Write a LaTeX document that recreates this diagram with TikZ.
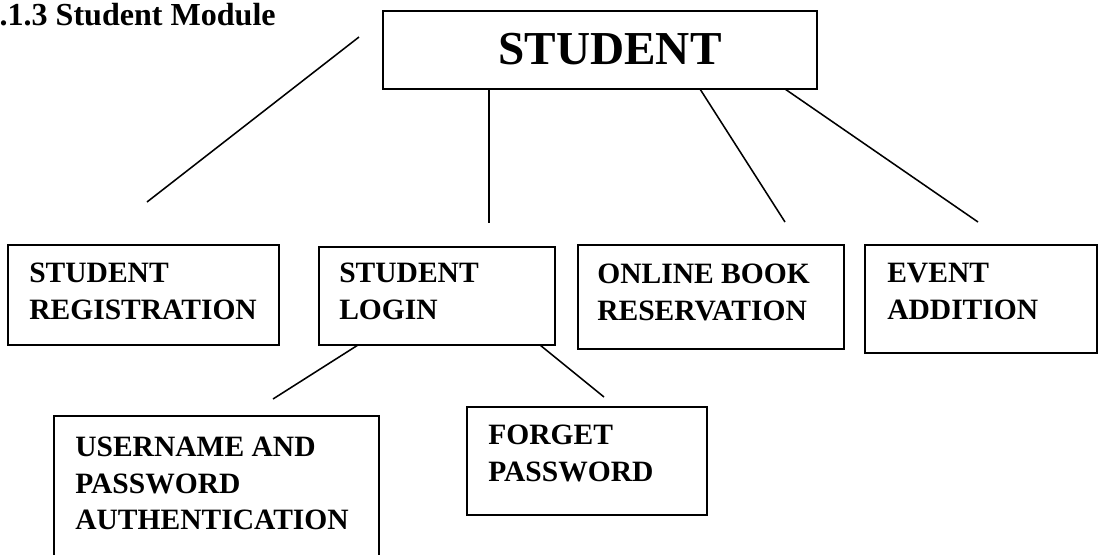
\documentclass[tikz,border=0pt]{standalone}
\usepackage{fontspec}
\setmainfont{Liberation Serif}
\usepackage{tikz}

\newcommand{\px}{0.025cm}

\tikzset{
  box/.style={draw, line width=1.4pt, inner sep=0pt, outer sep=0pt, anchor=north west},
  lbl/.style={inner sep=0pt, anchor=north west, align=left, font=\bfseries\fontsize{21}{26}\selectfont},
  link/.style={line width=1.1pt}
}

\begin{document}
\begin{tikzpicture}[x=\px, y=-\px]
\clip (0,0) rectangle (1100,554);
% heading
\node[anchor=base east, inner sep=0pt, font=\bfseries\fontsize{22.8}{27}\selectfont] (title) at (276,25) {.1.3 Student Module};
% top box
\node[box, minimum width=434*\px, minimum height=78*\px] (student) at (383,11) {};
\node[inner sep=0pt, font=\bfseries\fontsize{33.6}{40}\selectfont] (studenttxt) at (610,49) {STUDENT};
% second row
\node[box, minimum width=271*\px, minimum height=100*\px] (reg) at (8,245) {};
\node[box, minimum width=236*\px, minimum height=98*\px] (login) at (319,247) {};
\node[box, minimum width=266*\px, minimum height=104*\px] (online) at (578,245) {};
\node[box, minimum width=232*\px, minimum height=108*\px] (event) at (865,245) {};
\node[lbl] (regtxt) at ([shift={(21,18)}]reg.north west) {STUDENT\\REGISTRATION};
\node[lbl] (logintxt) at ([shift={(20,16)}]login.north west) {STUDENT\\LOGIN};
\node[lbl] (onlinetxt) at ([shift={(19,19)}]online.north west) {ONLINE BOOK\\RESERVATION};
\node[lbl] (eventtxt) at ([shift={(22,18)}]event.north west) {EVENT\\ADDITION};
% third row
\node[box, minimum width=325*\px, minimum height=160*\px] (uap) at (54,416) {};
\node[box, minimum width=240*\px, minimum height=108*\px] (forget) at (467,407) {};
\node[lbl] (uaptxt) at ([shift={(21,21)}]uap.north west) {USERNAME AND\\PASSWORD\\AUTHENTICATION};
\node[lbl] (forgettxt) at ([shift={(21,18)}]forget.north west) {FORGET\\PASSWORD};

% connector ends
\coordinate (sA) at ([shift={(106,0)}]student.south west);
\coordinate (sB) at ([shift={(317,0)}]student.south west);
\coordinate (sC) at ([shift={(402,0)}]student.south west);
\coordinate (lA) at ([shift={(39,0)}]login.south west);
\coordinate (lB) at ([shift={(221,0)}]login.south west);
\coordinate (stuleft) at (359,37);
\coordinate (regtip) at (147,202);
\coordinate (logintip) at (489,223);
\coordinate (onlinetip) at (785,222);
\coordinate (eventtip) at (978,222);
\coordinate (uaptip) at (273,399);
\coordinate (forgettip) at (604,397);

\draw[link] (stuleft) -- (regtip);
\draw[link] (sA) -- (logintip);
\draw[link] (sB) -- (onlinetip);
\draw[link] (sC) -- (eventtip);
\draw[link] (lA) -- (uaptip);
\draw[link] (lB) -- (forgettip);
\end{tikzpicture}
\end{document}
